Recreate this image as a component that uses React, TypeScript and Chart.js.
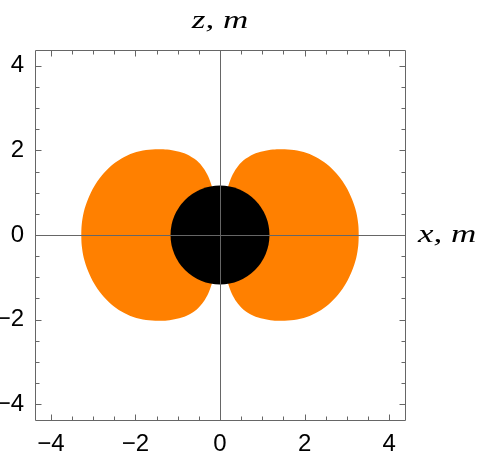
import { useEffect, useRef } from "react";
import { Chart, registerables } from "chart.js";

Chart.register(...registerables);

// Axis range and ticks
const axisMin = -4.375;
const axisMax = 4.375;
const majorTicks = [-4, -2, 0, 2, 4];
const minorTicks = [-4, -3.5, -3, -2.5, -2, -1.5, -1, -0.5, 0, 0.5, 1, 1.5, 2, 2.5, 3, 3.5, 4];

// Upper outline of the right lobe (x, z in m)
const lobeX = [0, 0.06, 0.13, 0.197, 0.28, 0.39, 0.55, 0.79, 1.02, 1.25, 1.46, 1.75, 2.05, 2.33, 2.58, 2.8, 2.98, 3.12, 3.22, 3.27, 3.28];
const lobeZ = [0, 0.5, 0.9, 1.165, 1.39, 1.58, 1.76, 1.91, 1.98, 2.02, 2.03, 2.01, 1.94, 1.81, 1.63, 1.4, 1.14, 0.85, 0.55, 0.25, 0];

// Central black disk
const diskCenter = [0, 0];
const diskRadius = [1.17];

const xTitle = "x, m";
const zTitle = "z, m";

const ORANGE = "#ff8000";
const FRAME = "#666666";

const fmt = (v: number) => (v < 0 ? "\u2212" + Math.abs(v) : String(v));

export default function App() {
  const ref = useRef<HTMLCanvasElement | null>(null);

  useEffect(() => {
    if (!ref.current) return;

    const upper = lobeX.map((x, i) => ({ x, y: lobeZ[i] }));
    const lower = upper
      .slice(0, -1)
      .reverse()
      .map((p) => ({ x: p.x, y: -p.y }));
    const rightLobe = [...upper, ...lower];
    const leftLobe = rightLobe.map((p) => ({ x: -p.x, y: p.y }));

    const framePlugin = {
      id: "framePlugin",
      afterDatasetsDraw(chart: any) {
        const { ctx, chartArea: a, scales } = chart;
        const sx = scales.x;
        const sy = scales.y;
        const al = (v: number) => Math.round(v) + 0.5;
        ctx.save();
        ctx.strokeStyle = FRAME;
        ctx.lineWidth = 1;
        ctx.beginPath();
        // zero axes
        const x0 = al(sx.getPixelForValue(0));
        const y0 = al(sy.getPixelForValue(0));
        ctx.moveTo(x0, a.top);
        ctx.lineTo(x0, a.bottom);
        ctx.moveTo(a.left, y0);
        ctx.lineTo(a.right, y0);
        // frame
        const L = al(a.left), R = al(a.right), T = al(a.top), B = al(a.bottom);
        ctx.moveTo(L, T);
        ctx.lineTo(R, T);
        ctx.lineTo(R, B);
        ctx.lineTo(L, B);
        ctx.closePath();
        // ticks
        minorTicks.forEach((v) => {
          const len = majorTicks.includes(v) ? 6 : 4;
          const px = al(sx.getPixelForValue(v));
          ctx.moveTo(px, B);
          ctx.lineTo(px, B - len);
          ctx.moveTo(px, T);
          ctx.lineTo(px, T + len);
          const py = al(sy.getPixelForValue(v));
          ctx.moveTo(L, py);
          ctx.lineTo(L + len, py);
          ctx.moveTo(R, py);
          ctx.lineTo(R - len, py);
        });
        ctx.stroke();

        // axis titles
        ctx.fillStyle = "#000";
        ctx.font = "italic 25px 'Liberation Serif'";
        ctx.textBaseline = "alphabetic";
        ctx.save();
        ctx.translate(sx.getPixelForValue(0), 28);
        ctx.scale(1.4, 1);
        ctx.textAlign = "center";
        ctx.fillText(zTitle, 0, 0);
        ctx.restore();
        ctx.save();
        ctx.translate(a.right + 13, sy.getPixelForValue(0) + 7);
        ctx.scale(1.4, 1);
        ctx.textAlign = "left";
        ctx.fillText(xTitle, 0, 0);
        ctx.restore();
        ctx.restore();
      },
    };

    const tickFont = { family: "'Liberation Sans', Arial, sans-serif", size: 24 };

    const chart = new Chart(ref.current, {
      type: "scatter",
      data: {
        datasets: [
          {
            label: "disk",
            data: [{ x: diskCenter[0], y: diskCenter[1] }],
            showLine: false,
            backgroundColor: "#000000",
            borderColor: "#000000",
            borderWidth: 0,
            pointRadius: (c: any) =>
              c.chart.scales.x.getPixelForValue(diskRadius[0]) - c.chart.scales.x.getPixelForValue(0),
            order: 1,
          } as any,
          {
            label: "right",
            data: rightLobe,
            showLine: true,
            fill: "shape",
            backgroundColor: ORANGE,
            borderColor: "rgba(0,0,0,0)",
            borderWidth: 1,
            pointRadius: 0,
            tension: 0.3,
            order: 2,
          } as any,
          {
            label: "left",
            data: leftLobe,
            showLine: true,
            fill: "shape",
            backgroundColor: ORANGE,
            borderColor: "rgba(0,0,0,0)",
            borderWidth: 1,
            pointRadius: 0,
            tension: 0.3,
            order: 2,
          } as any,
        ],
      },
      options: {
        responsive: false,
        animation: false,
        events: [],
        layout: { padding: { top: 50, right: 75, left: 0, bottom: 0 } },
        plugins: { legend: { display: false }, tooltip: { enabled: false }, title: { display: false } },
        scales: {
          x: {
            type: "linear",
            position: "bottom",
            min: axisMin,
            max: axisMax,
            grid: { display: false, drawTicks: false },
            border: { display: false },
            ticks: {
              font: tickFont,
              color: "#000",
              padding: 10,
              maxRotation: 0,
              autoSkip: false,
              callback: (v: any) => fmt(Number(v)),
            },
            afterBuildTicks: (s: any) => {
              s.ticks = majorTicks.map((v) => ({ value: v }));
            },
            afterFit: (s: any) => {
              s.height = 40;
            },
          },
          y: {
            type: "linear",
            position: "left",
            min: axisMin,
            max: axisMax,
            grid: { display: false, drawTicks: false },
            border: { display: false },
            ticks: {
              font: tickFont,
              color: "#000",
              padding: 11,
              autoSkip: false,
              callback: (v: any) => fmt(Number(v)),
            },
            afterBuildTicks: (s: any) => {
              s.ticks = majorTicks.map((v) => ({ value: v }));
            },
            afterFit: (s: any) => {
              s.width = 35;
            },
          },
        },
      } as any,
      plugins: [framePlugin],
    });

    return () => chart.destroy();
  }, []);

  return (
    <div style={{ position: "absolute", left: 0, top: 0, width: 480, height: 460, background: "#fff" }}>
      <canvas ref={ref} width={480} height={460} style={{ display: "block" }} />
    </div>
  );
}
